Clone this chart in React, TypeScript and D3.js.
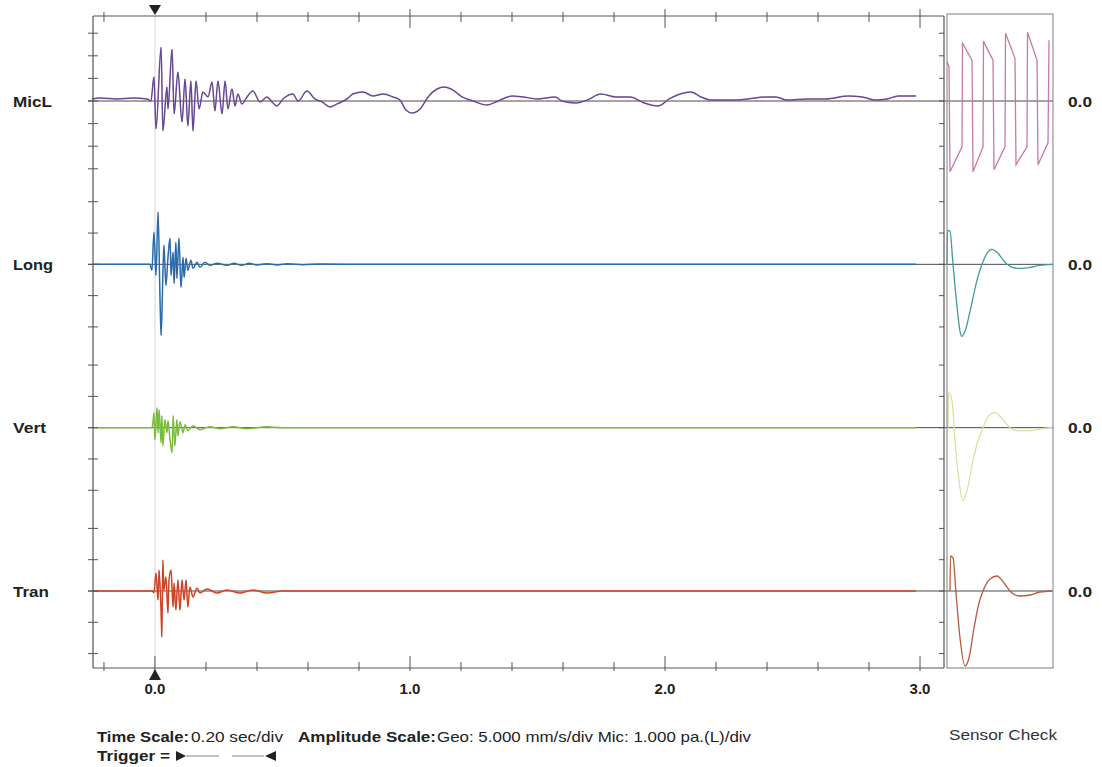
import React from "react";
import * as d3 from "d3";

// ---------- data ----------
const channels = ["MicL", "Long", "Vert", "Tran"];
const channelUnitsPerDiv = [1, 5, 5, 5]; // Mic: 1.000 pa/div, Geo: 5.000 mm/s/div
const micTickValues = [-3, -2, -1, 0, 1, 2, 3];
const geoTickValues = [-10, -5, 0, 5, 10];
const timeTicks = [-0.2, 0, 0.2, 0.4, 0.6, 0.8, 1.0, 1.2, 1.4, 1.6, 1.8, 2.0, 2.2, 2.4, 2.6, 2.8, 3.0];
const timeLabelValues = [0, 1, 2, 3];
const timeTickLabels = ["0.0", "1.0", "2.0", "3.0"];
const zeroLabels = ["0.0", "0.0", "0.0", "0.0"];

// time (s), pressure (pa)
const micLTrace: [number, number][] = [
  [-0.247, 0.09], [-0.216, 0.13], [-0.149, 0.09], [-0.086, 0.13], [-0.031, 0.09], [-0.016, 0],
  [-0.004, 1.06], [0.004, -1.23], [0.024, 2.38], [0.031, -1.32], [0.047, 0.62], [0.051, -0.35],
  [0.067, 2.29], [0.075, -0.57], [0.09, 1.28], [0.106, -0.93], [0.118, 0.97], [0.129, -1.1],
  [0.141, 0.88], [0.149, -1.32], [0.161, 0.88], [0.173, -0.35], [0.188, 0.4], [0.208, 0.18],
  [0.224, 0.84], [0.235, -0.44], [0.247, 0.88], [0.263, -0.57], [0.275, 0.88], [0.286, -0.35],
  [0.302, 0.53], [0.314, -0.22], [0.325, 0.31], [0.341, -0.13], [0.361, 0.18], [0.384, 0.44],
  [0.412, -0.04], [0.439, 0.18], [0.459, -0.04], [0.478, -0.22], [0.502, 0.09], [0.541, 0.31],
  [0.561, 0], [0.596, 0.44], [0.627, 0.09], [0.655, -0.04], [0.686, -0.26], [0.714, -0.13],
  [0.753, 0.09], [0.776, 0.31], [0.816, 0.4], [0.855, 0.22], [0.894, 0.31], [0.933, 0.18],
  [0.961, 0.04], [0.984, -0.4], [1.008, -0.53], [1.043, -0.31], [1.071, 0.18], [1.106, 0.53],
  [1.133, 0.62], [1.169, 0.48], [1.204, 0.18], [1.247, 0], [1.302, -0.18], [1.345, 0],
  [1.4, 0.22], [1.443, 0.18], [1.498, 0.09], [1.569, 0.18], [1.596, 0], [1.651, -0.09],
  [1.694, 0.04], [1.749, 0.31], [1.808, 0.18], [1.863, 0.18], [1.918, -0.09], [1.973, -0.22],
  [2.016, 0.09], [2.059, 0.31], [2.102, 0.4], [2.141, 0.18], [2.184, 0.04], [2.255, 0.04],
  [2.325, 0.09], [2.396, 0.18], [2.435, 0.18], [2.478, 0.04], [2.561, 0.09], [2.631, 0.09],
  [2.718, 0.22], [2.773, 0.18], [2.827, 0.04], [2.871, 0.09], [2.914, 0.22], [2.984, 0.22],
];

// time (s), velocity (mm/s)
const longTrace: [number, number][] = [
  [-0.243, 0], [-0.02, 0], [-0.012, -0.96], [-0.004, 5.11], [0.004, -1.76], [0.012, 8.31],
  [0.02, -5.91], [0.024, -11.34], [0.031, -1.76], [0.035, 3.04], [0.043, -3.35], [0.051, 1.12],
  [0.059, 4.15], [0.063, -1.76], [0.071, 1.92], [0.075, -3.04], [0.082, 3.51], [0.086, -2.24],
  [0.094, 4.15], [0.102, -3.67], [0.11, 1.12], [0.114, -2.08], [0.122, 0.96], [0.129, -0.96],
  [0.141, 0.64], [0.149, -0.64], [0.165, 0.32], [0.176, -0.48], [0.196, 0.32], [0.216, -0.16],
  [0.243, 0.16], [0.282, -0.16], [0.31, 0.16], [0.34, -0.16], [0.37, 0.16], [0.4, -0.1],
  [0.44, 0.1], [0.48, -0.1], [0.52, 0.1], [0.58, -0.05], [0.65, 0.05], [0.8, 0], [2.984, 0],
];

const vertTrace: [number, number][] = [
  [-0.243, 0], [-0.012, 0], [-0.008, 0.8], [-0.004, 2.4], [0, -1.92], [0.008, 3.19],
  [0.012, -0.8], [0.016, 2.88], [0.024, -2.4], [0.027, 1.92], [0.031, -2.88], [0.039, 1.28],
  [0.047, -0.8], [0.051, 1.12], [0.059, -1.92], [0.067, -3.99], [0.071, 1.92], [0.078, -2.88],
  [0.086, 1.28], [0.09, -1.28], [0.098, 0.96], [0.11, -0.8], [0.118, 0.48], [0.129, -0.48],
  [0.149, 0.32], [0.176, -0.32], [0.216, 0.16], [0.255, -0.16], [0.306, 0.16], [0.361, -0.16],
  [0.439, 0.16], [0.5, 0], [2.984, 0],
];

const tranTrace: [number, number][] = [
  [-0.243, 0], [-0.01, 0], [-0.004, -0.32], [0.004, 2.88], [0.012, -1.44], [0.016, 3.35],
  [0.024, -3.51], [0.027, -7.35], [0.031, 4.95], [0.035, 0.16], [0.043, 2.24], [0.051, -3.51],
  [0.055, 1.76], [0.063, 3.35], [0.071, -2.56], [0.075, 1.28], [0.082, -3.04], [0.09, 1.76],
  [0.098, -3.04], [0.106, 1.76], [0.114, -1.44], [0.122, 1.76], [0.129, -2.56], [0.137, 0.64],
  [0.149, -0.96], [0.165, 0.48], [0.176, -0.32], [0.204, 0.32], [0.243, -0.32], [0.282, 0.16],
  [0.333, -0.32], [0.384, 0.16], [0.439, -0.32], [0.502, 0], [2.984, 0],
];

// sensor check: time (ms), amplitude
const micLSensor: [number, number][] = [
  [0, 1.72], [2, 1.54], [3, -3.13], [15, -2.03], [15.5, 2.56], [25, 1.81], [26, -3.13],
  [36, -2.03], [36.5, 2.64], [46, 1.81], [47, -3.04], [58, -2.03], [58.5, 3.0], [68, 1.89],
  [69, -2.82], [80, -2.03], [80.5, 3.04], [90, 1.81], [91, -2.82], [101, -1.85], [102, 2.69],
];
const longSensor: [number, number][] = [
  [0, 0], [0.5, 5.43], [3, 5.27], [6, 0], [10, -6.71], [13, -10.7], [15, -11.5], [18, -10.7],
  [23, -7.51], [29, -3.19], [35, 0], [40, 1.76], [45, 2.4], [51, 1.76], [58, 0.32], [65, -0.48],
  [73, -0.64], [83, -0.48], [93, -0.16], [105, 0],
];
const vertSensor: [number, number][] = [
  [1, 0], [1.5, 5.59], [5, 4.31], [8, -2.08], [12, -8.47], [16, -11.66], [20, -10.06],
  [26, -5.27], [31, -2.08], [36, 0], [42, 1.92], [48, 2.4], [55, 1.44], [63, 0], [71, -0.48],
  [83, -0.48], [95, -0.16], [105, 0],
];
const tranSensor: [number, number][] = [
  [3, 0], [3.5, 5.59], [6, 5.27], [9, -0.32], [13, -7.51], [18, -11.98], [22, -10.7],
  [27, -5.91], [32, -1.92], [36, 0], [43, 1.92], [50, 2.4], [57, 1.28], [65, -0.32], [73, -0.8],
  [83, -0.64], [93, -0.16], [105, 0],
];

const mainTraces = [micLTrace, longTrace, vertTrace, tranTrace];
const sensorTraces = [micLSensor, longSensor, vertSensor, tranSensor];

// ---------- style / layout ----------
const traceColors = ["#7a52ac", "#2f7cc4", "#82cc3c", "#ea4a26"];
const traceOverlay = [0.4, 0.35, 0.15, 0.25];
const sensorColors = ["#c879a8", "#3f9c9c", "#d4e4a2", "#b85a3c"];
const divPx = [22.6, 31.3, 31.3, 31.3];
const FONT = "'Liberation Sans', Arial, sans-serif";

export default function App() {
  const W = 1102, H = 767;
  const L = 93, R = 944, T = 16, B = 668;
  const SX0 = 947, SX1 = 1053, ST = 14;

  const x = d3.scaleLinear().domain([-0.243, 3.094]).range([L, R]);
  const base = d3.scalePoint<string>().domain(channels).range([101, 591]);
  const sx = d3.scaleLinear().domain([0, 105]).range([SX0, SX1 - 1]);
  const yFor = (i: number) => {
    const b = base(channels[i]) as number;
    const ppu = divPx[i] / channelUnitsPerDiv[i];
    return d3.scaleLinear().domain([-1, 1]).range([b + ppu, b - ppu]);
  };
  const x0 = x(0);

  return (
    <svg width={W} height={H} style={{ position: "absolute", left: 0, top: 0, background: "#fff" }}
      fontFamily={FONT}>
      <rect x={0} y={0} width={W} height={H} fill="#fff" />
      {/* trigger line */}
      <line x1={x0} x2={x0} y1={T} y2={B} stroke="#ece2ec" strokeWidth={1.6} />

      {/* baselines */}
      {channels.map((c) => {
        const b = base(c) as number;
        return <line key={"bl" + c} x1={L - 5} x2={SX1} y1={b} y2={b} stroke="#4a4a4a" strokeWidth={1} />;
      })}

      {/* main traces */}
      {channels.map((c, i) => {
        const y = yFor(i);
        const ln = d3.line<[number, number]>().x(d => x(d[0])).y(d => y(d[1])).curve(d3.curveMonotoneX);
        const p = ln(mainTraces[i]) || "";
        return (
          <g key={"tr" + c}>
            <path d={p} fill="none" stroke={traceColors[i]} strokeWidth={1.5} strokeLinejoin="round" />
            <path d={p} fill="none" stroke="#2a2a3a" strokeOpacity={traceOverlay[i]} strokeWidth={0.7} />
          </g>
        );
      })}

      {/* sensor traces */}
      {channels.map((c, i) => {
        const y = yFor(i);
        const ln = d3.line<[number, number]>().x(d => sx(d[0])).y(d => y(d[1]));
        if (i > 0) ln.curve(d3.curveMonotoneX);
        return <path key={"sn" + c} d={ln(sensorTraces[i]) || ""} fill="none" stroke={sensorColors[i]} strokeWidth={1.3} />;
      })}

      {/* main frame */}
      <g stroke="#555" strokeWidth={1.2} fill="none">
        <line x1={L} x2={L} y1={T} y2={B} />
        <line x1={L} x2={R} y1={T} y2={T} />
        <line x1={L} x2={R} y1={B} y2={B} />
        <line x1={R} x2={R} y1={T} y2={B} />
      </g>
      {/* sensor box */}
      <rect x={SX0} y={ST} width={SX1 - SX0} height={B - ST} fill="none" stroke="#8a8a8a" strokeWidth={1.1} />

      {/* time ticks */}
      {timeTicks.map(t => {
        const major = Math.abs(t - Math.round(t)) < 1e-6;
        const xx = x(t);
        return (
          <g key={"tt" + t} stroke="#555" strokeWidth={1}>
            {t !== 0 && <line x1={xx} x2={xx} y1={major ? 9 : 12} y2={major ? 28 : 22} />}
            <line x1={xx} x2={xx} y1={major ? 656 : 662} y2={671} />
          </g>
        );
      })}

      {/* amplitude ticks */}
      {channels.map((c, i) => {
        const y = yFor(i);
        const vals = i === 0 ? micTickValues : geoTickValues;
        return vals.map(v => (
          <g key={"at" + c + v} stroke="#555" strokeWidth={1}>
            <line x1={L - 5} x2={L + 5} y1={y(v)} y2={y(v)} />
            <line x1={R - 5} x2={R} y1={y(v)} y2={y(v)} />
          </g>
        ));
      })}

      {/* trigger markers */}
      <path d={`M${x0 - 6},5 L${x0 + 6},5 L${x0},15 Z`} fill="#222" />
      <path d={`M${x0},669 L${x0 - 6},680 L${x0 + 6},680 Z`} fill="#222" />

      {/* time labels */}
      {timeLabelValues.map((t, k) => (
        <text key={"tl" + t} x={x(t)} y={694} textAnchor="middle" fontSize={15} fontWeight="bold" fill="#222">
          {timeTickLabels[k]}
        </text>
      ))}

      {/* channel labels */}
      {channels.map(c => (
        <text key={"cl" + c} x={13} y={(base(c) as number) + 5.5} fontSize={15} fontWeight="bold" fill="#222"
          textLength={c === "MicL" ? 39 : c === "Long" ? 40 : c === "Vert" ? 33 : 36} lengthAdjust="spacingAndGlyphs">
          {c}
        </text>
      ))}
      {/* zero labels */}
      {channels.map((c, i) => (
        <text key={"zl" + c} x={1068} y={(base(c) as number) + 5.5} fontSize={15} fontWeight="bold" fill="#222"
          textLength={24} lengthAdjust="spacingAndGlyphs">
          {zeroLabels[i]}
        </text>
      ))}

      {/* footer */}
      <g fill="#222" fontSize={15}>
        <text x={97} y={742} fontWeight="bold" textLength={92} lengthAdjust="spacingAndGlyphs">Time Scale:</text>
        <text x={191} y={742} textLength={92} lengthAdjust="spacingAndGlyphs">0.20 sec/div</text>
        <text x={298} y={742} fontWeight="bold" textLength={138} lengthAdjust="spacingAndGlyphs">Amplitude Scale:</text>
        <text x={437} y={742} textLength={314} lengthAdjust="spacingAndGlyphs">Geo: 5.000 mm/s/div Mic: 1.000 pa.(L)/div</text>
        <text x={97} y={761} fontWeight="bold" textLength={73} lengthAdjust="spacingAndGlyphs">Trigger =</text>
        <text x={949} y={740} fill="#333" textLength={108} lengthAdjust="spacingAndGlyphs">Sensor Check</text>
      </g>
      <path d="M176,751 L176,761 L186,756 Z" fill="#222" />
      <line x1={186} x2={219} y1={756} y2={756} stroke="#888" strokeWidth={1} />
      <line x1={232} x2={264} y1={756} y2={756} stroke="#888" strokeWidth={1} />
      <path d="M276,751 L276,761 L265,756 Z" fill="#222" />
    </svg>
  );
}
